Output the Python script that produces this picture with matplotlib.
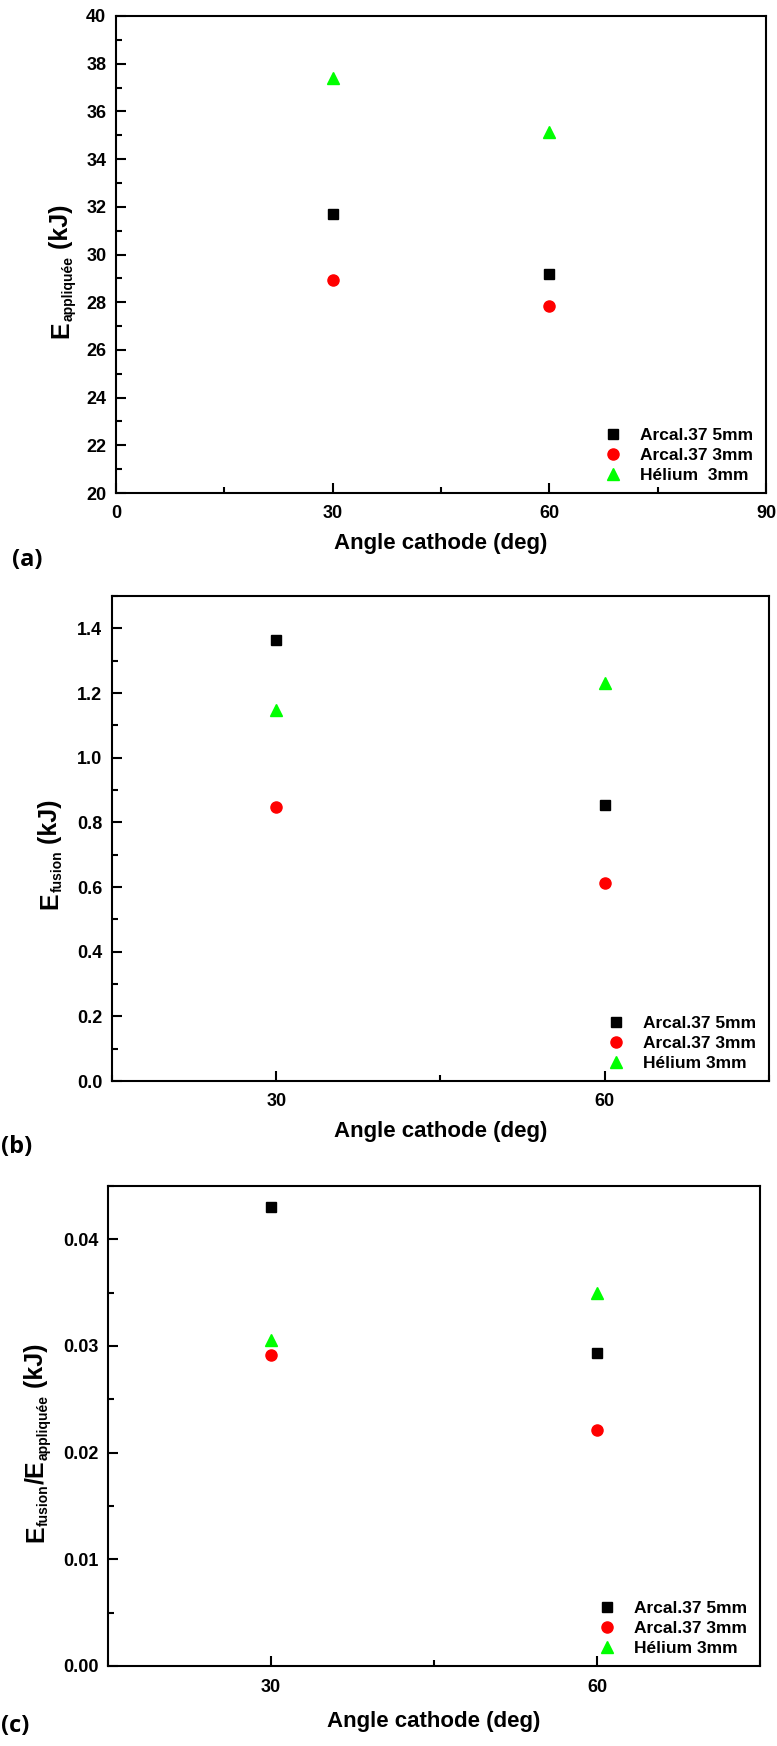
import matplotlib

matplotlib.use("Agg")
import matplotlib.pyplot as plt
from matplotlib.ticker import MultipleLocator

plt.rcParams["font.family"] = ["Liberation Sans", "DejaVu Sans"]
plt.rcParams["font.weight"] = "bold"

W, H = 777, 1746

SERIES = ["Arcal.37 5mm", "Arcal.37 3mm", "Hélium 3mm"]
SERIES_A = ["Arcal.37 5mm", "Arcal.37 3mm", "Hélium  3mm"]
ANGLES = [30, 60]

# (a) applied energy, kJ
E_APPLIQUEE = {
    "Arcal.37 5mm": [31.71, 29.19],
    "Arcal.37 3mm": [28.93, 27.82],
    "Hélium 3mm": [37.42, 35.15],
}
# (b) fusion energy, kJ
E_FUSION = {
    "Arcal.37 5mm": [1.365, 0.854],
    "Arcal.37 3mm": [0.846, 0.613],
    "Hélium 3mm": [1.148, 1.231],
}
# (c) ratio
E_RATIO = {
    "Arcal.37 5mm": [0.0430, 0.0293],
    "Arcal.37 3mm": [0.0292, 0.0221],
    "Hélium 3mm": [0.0306, 0.0350],
}

STYLES = {
    "Arcal.37 5mm": dict(marker="s", color="black", ms=7),
    "Arcal.37 3mm": dict(marker="o", color="red", ms=8),
    "Hélium 3mm": dict(marker="^", color="#00ff00", ms=9),
}

fig = plt.figure(figsize=(W / 100, H / 100), dpi=100)


def make_axes(x0, x1, y0, y1):
    return fig.add_axes([x0 / W, 1 - y1 / H, (x1 - x0) / W, (y1 - y0) / H])


def stacked_ylabel(x_base, y_center, pieces):
    """Vertical label built from pieces (text, size, shift_px)."""
    renderer = fig.canvas.get_renderer()
    texts = []
    for txt, size, shift in pieces:
        t = fig.text(0, 0, txt, fontsize=size, fontweight="bold", rotation=90,
                     rotation_mode="anchor", ha="left", va="baseline")
        texts.append((t, shift))
    lengths = [t.get_window_extent(renderer).height for t, _ in texts]
    y = y_center + sum(lengths) / 2
    for (t, shift), length in zip(texts, lengths):
        t.set_position(((x_base + shift) / W, 1 - y / H))
        y -= length


def panel(box, data, labels, ylim, ymajor, yminor, xlim, xmajor, xminor,
          xlabel_y, legend_anchor, ylabel_pieces, ylabel_pos, ytick_fmt):
    x0, x1, y0, y1 = box
    ax = make_axes(*box)
    for name, label in zip(SERIES, labels):
        st = STYLES[name]
        ax.plot(ANGLES, data[name], linestyle="none", marker=st["marker"],
                color=st["color"], markersize=st["ms"], label=label)
    ax.set_xlim(*xlim)
    ax.set_ylim(*ylim)
    ax.xaxis.set_major_locator(MultipleLocator(xmajor))
    ax.xaxis.set_minor_locator(MultipleLocator(xminor))
    ax.yaxis.set_major_locator(MultipleLocator(ymajor))
    ax.yaxis.set_minor_locator(MultipleLocator(yminor))
    ax.yaxis.set_major_formatter(ytick_fmt)
    if xlim[0] != 0:
        ax.set_xticks([30, 60])
    for s in ax.spines.values():
        s.set_linewidth(1.5)
    ax.tick_params(which="both", direction="in", width=1.5, labelsize=13,
                   top=False, right=False)
    ax.tick_params(which="major", length=7)
    ax.tick_params(which="minor", length=4.3)
    ax.tick_params(axis="y", pad=7)
    ax.tick_params(axis="x", pad=9)

    ax.set_xlabel("Angle cathode (deg)", fontsize=16, fontweight="bold")
    ax.xaxis.label.set_verticalalignment("center")
    ax.xaxis.set_label_coords(0.5, (y1 - xlabel_y) / (y1 - y0))

    ax.legend(loc="lower right", bbox_to_anchor=legend_anchor, frameon=False,
              fontsize=12.5, handlelength=1.0, handletextpad=1.05,
              labelspacing=0.3, borderaxespad=0, borderpad=0, numpoints=1)

    stacked_ylabel(ylabel_pos[0], ylabel_pos[1], ylabel_pieces)
    return ax


panel((116, 766, 16, 493), E_APPLIQUEE, SERIES_A, (20, 40), 2, 1,
      (0, 90), 30, 15, 544, (0.98, 0.02),
      [("E", 18, 0), ("appliquée", 10, 5), (" (kJ)", 18, 0)], (68, 271), "{x:.0f}")

panel((112, 769, 596, 1081), E_FUSION, SERIES, (0, 1.5), 0.2, 0.1,
      (15, 75), 30, 15, 1132, (0.98, 0.02),
      [("E", 18, 0), ("fusion", 10, 5), (" (kJ)", 18, 0)], (57, 854), "{x:.1f}")

panel((108, 760, 1186, 1666), E_RATIO, SERIES, (0, 0.045), 0.01, 0.005,
      (15, 75), 30, 15, 1722, (0.98, 0.02),
      [("E", 18, 0), ("fusion", 10, 5), ("/E", 18, 0), ("appliquée", 10, 5),
       (" (kJ)", 18, 0)], (43, 1443), "{x:.2f}")

fig.text(12 / W, 1 - 560 / H, "(a)", fontsize=17, fontweight="bold",
         family="Open Sans", va="center", ha="left")
fig.text(1 / W, 1 - 1147 / H, "(b)", fontsize=17, fontweight="bold",
         family="Open Sans", va="center", ha="left")
fig.text(1 / W, 1 - 1726 / H, "(c)", fontsize=17, fontweight="bold",
         family="Open Sans", va="center", ha="left")

fig.savefig("out.png", dpi=100)
